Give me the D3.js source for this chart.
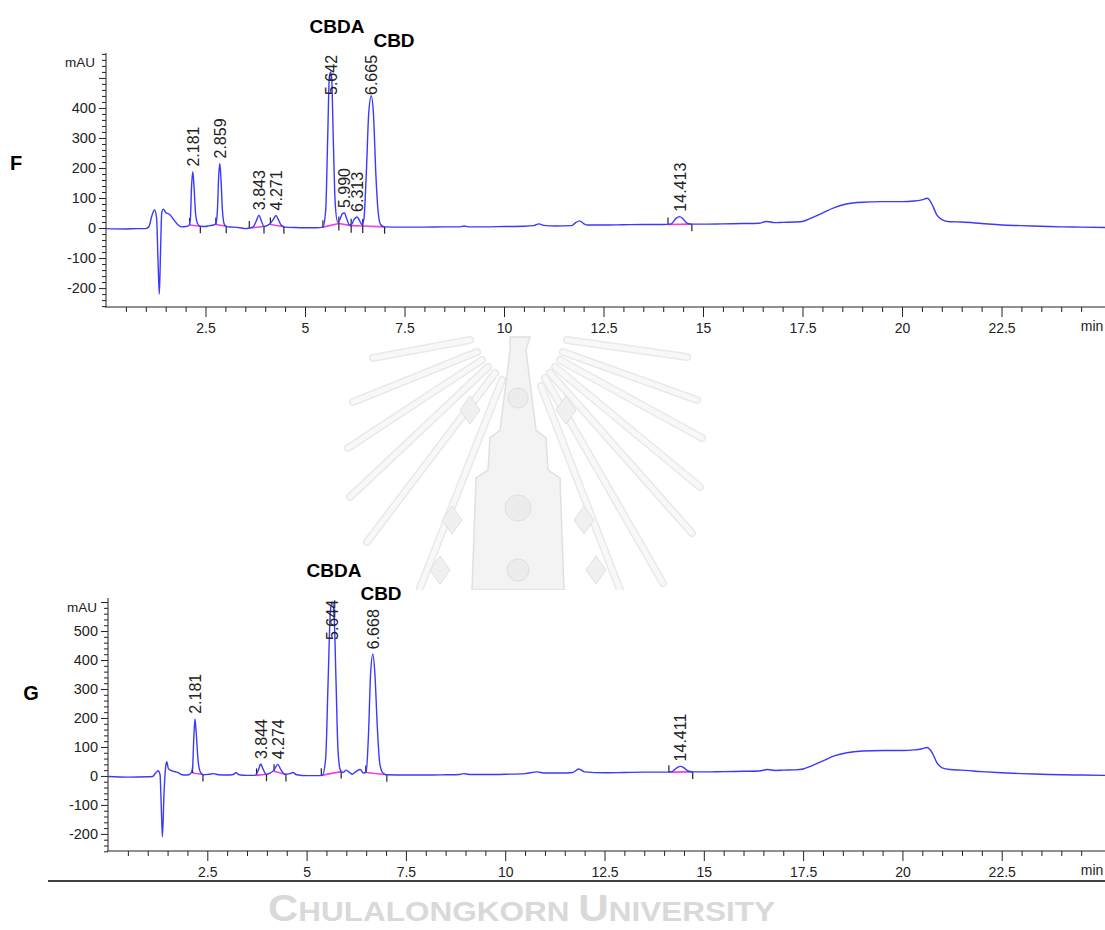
<!DOCTYPE html>
<html>
<head>
<meta charset="utf-8">
<script src="https://cdn.jsdelivr.net/npm/d3@7"></script>
<style>
  body { margin: 0; background: #fff; }
  svg { display: block; }
  text { font-family: "Liberation Sans", Arial, sans-serif; }
</style>
</head>
<body>
<svg id="svg_id" width="1105" height="930"></svg>
<script>
// chromatogram F: [min, mAU]
var traceF = [
  [0, -2], [0.5, -3], [0.8, -2], [1.0, -2], [1.08, 5], [1.15, 40], [1.22, 60], [1.27, 35],
  [1.31, -120], [1.34, -220], [1.37, -80], [1.40, 50], [1.44, 63], [1.5, 52], [1.6, 45],
  [1.7, 28], [1.8, 12], [1.9, 4], [2.0, 5], [2.08, 8], [2.12, 30], [2.15, 140], [2.181, 188],
  [2.21, 140], [2.25, 50], [2.3, 15], [2.37, 6], [2.5, 5], [2.6, 8], [2.7, 10], [2.76, 14],
  [2.80, 60], [2.83, 170], [2.859, 215], [2.89, 160], [2.93, 50], [2.98, 10], [3.05, 4],
  [3.2, 3], [3.4, 0], [3.5, -2], [3.6, 0], [3.7, 4], [3.78, 25], [3.843, 43], [3.9, 25],
  [3.97, 5], [4.05, 8], [4.12, 14], [4.2, 28], [4.271, 42], [4.33, 28], [4.4, 10], [4.5, 3],
  [4.7, 2], [5.0, 1], [5.3, 1], [5.45, 3], [5.52, 60], [5.57, 300], [5.61, 500], [5.642, 520],
  [5.67, 500], [5.71, 300], [5.76, 80], [5.82, 20], [5.88, 30], [5.94, 48], [5.99, 50],
  [6.05, 30], [6.12, 10], [6.17, 12], [6.24, 30], [6.313, 37], [6.37, 25], [6.43, 12],
  [6.48, 30], [6.54, 180], [6.6, 380], [6.665, 440], [6.72, 380], [6.78, 180], [6.84, 50],
  [6.9, 12], [7.0, 4], [7.5, 3], [8.0, 3], [8.5, 4], [8.9, 4], [9.0, 7], [9.1, 4], [9.5, 4],
  [10.0, 5], [10.5, 6], [10.75, 8], [10.88, 14], [11.0, 9], [11.3, 7], [11.7, 8], [11.8, 18],
  [11.9, 24], [12.0, 15], [12.1, 10], [12.5, 10], [13.0, 11], [13.5, 12], [14.0, 12],
  [14.2, 14], [14.32, 32], [14.413, 38], [14.5, 30], [14.6, 16], [14.72, 13], [15.0, 13],
  [15.5, 14], [16.0, 15], [16.4, 16], [16.6, 22], [16.8, 18], [17.0, 19], [17.3, 20],
  [17.5, 22], [17.7, 32], [18.0, 50], [18.3, 68], [18.6, 80], [19.0, 86], [19.5, 88],
  [20.0, 88], [20.3, 90], [20.5, 94], [20.64, 99], [20.75, 80], [20.87, 45], [21.0, 28],
  [21.2, 21], [21.5, 20], [22.0, 15], [22.5, 10], [23.0, 8], [23.5, 6], [24.0, 4],
  [24.5, 3], [25.1, 2]
];

// chromatogram G
var traceG = [
  [0, -2], [0.5, -4], [1.0, -3], [1.12, -2], [1.2, 10], [1.26, 18], [1.31, 5], [1.34, -100],
  [1.37, -210], [1.41, -60], [1.45, 30], [1.48, 49], [1.52, 25], [1.57, 20], [1.65, 16],
  [1.75, 12], [1.85, 5], [1.95, 3], [2.05, 5], [2.1, 12], [2.13, 30], [2.16, 130], [2.19, 197],
  [2.22, 150], [2.27, 50], [2.33, 12], [2.4, 4], [2.55, 6], [2.65, 8], [2.8, 4], [3.0, 3],
  [3.15, 5], [3.22, 11], [3.3, 4], [3.5, 2], [3.7, 2], [3.78, 18], [3.844, 41], [3.9, 25],
  [3.98, 6], [4.08, 10], [4.18, 20], [4.274, 40], [4.35, 22], [4.45, 6], [4.58, 8],
  [4.65, 12], [4.75, 4], [5.0, 1], [5.3, 1], [5.4, 3], [5.48, 60], [5.54, 320], [5.6, 570],
  [5.644, 600], [5.69, 560], [5.74, 330], [5.79, 90], [5.85, 20], [5.92, 12], [6.0, 20],
  [6.08, 12], [6.15, 6], [6.25, 16], [6.35, 22], [6.43, 10], [6.5, 14], [6.56, 150],
  [6.61, 350], [6.668, 420], [6.72, 350], [6.78, 170], [6.84, 45], [6.92, 10], [7.02, 4],
  [7.5, 3], [8.0, 3], [8.5, 4], [8.85, 5], [8.95, 8], [9.1, 5], [9.5, 5], [10.0, 6],
  [10.5, 8], [10.8, 14], [11.0, 10], [11.4, 10], [11.7, 12], [11.85, 24], [12.0, 14],
  [12.5, 11], [13.0, 12], [13.5, 13], [14.0, 13], [14.2, 15], [14.32, 28], [14.411, 33],
  [14.5, 28], [14.6, 17], [14.72, 14], [15.0, 14], [15.5, 15], [16.0, 16], [16.4, 17],
  [16.6, 22], [16.8, 19], [17.0, 20], [17.3, 21], [17.5, 24], [17.7, 34], [18.0, 52],
  [18.3, 70], [18.6, 80], [19.0, 86], [19.5, 88], [20.0, 88], [20.3, 90], [20.5, 94],
  [20.62, 98], [20.75, 80], [20.87, 45], [21.0, 28], [21.2, 22], [21.5, 20], [22.0, 15],
  [22.5, 11], [23.0, 8], [23.5, 6], [24.0, 4], [24.5, 3], [25.1, 2]
];

// labelled peaks: [retention time, apex mAU]
var peaksF = [[2.181, 188], [2.859, 215], [3.843, 43], [4.271, 42], [5.642, 520],
              [5.990, 50], [6.313, 37], [6.665, 440], [14.413, 38]];
var peaksG = [[2.181, 197], [3.844, 41], [4.274, 40], [5.644, 600], [6.668, 420], [14.411, 33]];

// integration baselines: [start min, start mAU, end min, end mAU]
var baseF = [[2.10, 10, 2.37, 6], [2.76, 12, 3.02, 6], [3.60, 0, 3.97, 5], [4.13, 12, 4.47, 4],
             [5.45, 3, 5.85, 15], [5.85, 15, 6.16, 8], [6.16, 8, 6.45, 7], [6.45, 7, 7.0, 4],
             [14.12, 12, 14.72, 13]];
var baseG = [[2.13, 10, 2.39, 5], [3.74, 2, 3.99, 6], [4.18, 16, 4.48, 5], [5.37, 2, 5.87, 15],
             [6.49, 12, 7.02, 4], [14.12, 13, 14.72, 14]];

var xTickLabels = [2.5, 5, 7.5, 10, 12.5, 15, 17.5, 20, 22.5];
var yTickLabelsF = [-200, -100, 0, 100, 200, 300, 400];
var yTickLabelsG = [-200, -100, 0, 100, 200, 300, 400, 500];

var svg = d3.select("svg");

// faint university emblem between the two panels
var wm = svg.append("g").attr("class", "watermark");
var rays = [
  [470, 340, 373, 358], [477, 352, 353, 402], [482, 360, 348, 448], [488, 367, 350, 497],
  [495, 373, 367, 542], [502, 380, 420, 588],
  [567, 340, 687, 357], [563, 352, 697, 400], [560, 360, 702, 438], [555, 367, 700, 487],
  [550, 373, 692, 533], [545, 378, 663, 583], [541, 386, 620, 590]
];
rays.forEach(function (r) {
  wm.append("line").attr("x1", r[0]).attr("y1", r[1]).attr("x2", r[2]).attr("y2", r[3])
    .attr("stroke", "#e9e9e9").attr("stroke-width", 8).attr("stroke-linecap", "round");
  wm.append("line").attr("x1", r[0]).attr("y1", r[1]).attr("x2", r[2]).attr("y2", r[3])
    .attr("stroke", "#f8f8f8").attr("stroke-width", 5).attr("stroke-linecap", "round");
});
wm.append("path")
  .attr("d", "M510,337 L530,337 L526,350 L536,430 L546,438 L548,470 L560,478 L564,590 " +
             "L472,590 L476,478 L488,470 L490,438 L500,430 L510,350 Z")
  .attr("fill", "#f3f3f3").attr("stroke", "#e0e0e0").attr("stroke-width", 1.5);
[[518, 398, 10], [518, 508, 13], [518, 570, 11]].forEach(function (c) {
  wm.append("circle").attr("cx", c[0]).attr("cy", c[1]).attr("r", c[2])
    .attr("fill", "#ececec").attr("stroke", "#dedede");
});
[[470, 410], [566, 410], [452, 520], [584, 520], [440, 570], [596, 570]].forEach(function (p) {
  wm.append("path")
    .attr("d", "M" + p[0] + "," + (p[1] - 14) + " l10,14 l-10,14 l-10,-14 Z")
    .attr("fill", "#f0f0f0").attr("stroke", "#e0e0e0");
});

function drawChart(cfg) {
  var x = d3.scaleLinear().domain([0, 25.1]).range([cfg.left, 1105]);
  var y = d3.scaleLinear().domain(cfg.yDomain).range([cfg.bottom, cfg.top]);
  var g = svg.append("g");

  // white panel hides the emblem behind the lower chart
  if (cfg.panel) {
    g.append("rect").attr("x", 0).attr("y", cfg.panel).attr("width", 1105)
      .attr("height", cfg.bottom + 40 - cfg.panel).attr("fill", "#fff");
  }

  // x axis: minor and major ticks
  var xMinor = d3.range(0.5, 25.01, 0.5).filter(function (d) { return d % 2.5 !== 0; });
  g.append("g").attr("transform", "translate(0," + cfg.bottom + ")")
    .call(d3.axisBottom(x).tickValues(xMinor).tickSize(5).tickFormat(""))
    .call(function (a) { a.select(".domain").remove(); });
  var xa = g.append("g").attr("transform", "translate(0," + cfg.bottom + ")")
    .call(d3.axisBottom(x).tickValues(xTickLabels).tickSize(10).tickPadding(6)
      .tickFormat(function (d) { return String(d); }));
  xa.select(".domain").attr("d", "M" + (cfg.left - 1) + ",0H1105");
  xa.selectAll("text").attr("font-size", 14).attr("fill", "#222");
  g.append("text").attr("x", 1092).attr("y", cfg.bottom + 24).attr("text-anchor", "middle")
    .attr("font-size", 14).attr("fill", "#222").text("min");

  // y axis
  var yMinor = d3.range(-260, cfg.yDomain[1], 20).filter(function (d) { return d % 100 !== 0; });
  var yMajor = d3.range(-200, cfg.yDomain[1], 100);
  g.append("g").attr("transform", "translate(" + cfg.left + ",0)")
    .call(d3.axisLeft(y).tickValues(yMinor).tickSize(4).tickFormat(""))
    .call(function (a) { a.select(".domain").remove(); });
  var ya = g.append("g").attr("transform", "translate(" + cfg.left + ",0)")
    .call(d3.axisLeft(y).tickValues(yMajor).tickSize(7).tickPadding(3)
      .tickFormat(function (d) { return cfg.yLabels.indexOf(d) >= 0 ? String(d) : ""; }));
  ya.select(".domain").attr("d", "M0," + cfg.top + "V" + cfg.bottom);
  ya.selectAll("text").attr("font-size", 14.5).attr("fill", "#222");
  g.append("text").attr("x", cfg.left - 11).attr("y", cfg.top + 14).attr("text-anchor", "end")
    .attr("font-size", 13.5).attr("fill", "#222").text("mAU");

  g.selectAll(".domain, .tick line").attr("stroke", "#222");

  // integration baselines and markers
  g.selectAll(".base").data(cfg.base).enter().append("line")
    .attr("x1", function (d) { return x(d[0]); }).attr("y1", function (d) { return y(d[1]); })
    .attr("x2", function (d) { return x(d[2]); }).attr("y2", function (d) { return y(d[3]); })
    .attr("stroke", "#f040e0").attr("stroke-width", 1.6);
  g.selectAll(".mstart").data(cfg.base).enter().append("line")
    .attr("x1", function (d) { return x(d[0]); }).attr("x2", function (d) { return x(d[0]); })
    .attr("y1", function (d) { return y(d[1]) - 7; }).attr("y2", function (d) { return y(d[1]); })
    .attr("stroke", "#222").attr("stroke-width", 1.2);
  g.selectAll(".mend").data(cfg.base).enter().append("line")
    .attr("x1", function (d) { return x(d[2]); }).attr("x2", function (d) { return x(d[2]); })
    .attr("y1", function (d) { return y(d[3]); }).attr("y2", function (d) { return y(d[3]) + 7; })
    .attr("stroke", "#222").attr("stroke-width", 1.2);

  // signal trace
  var line = d3.line()
    .x(function (d) { return x(d[0]); })
    .y(function (d) { return y(d[1]); })
    .curve(d3.curveMonotoneX);
  g.append("path").datum(cfg.trace).attr("d", line)
    .attr("fill", "none").attr("stroke", "#3a3aff").attr("stroke-width", 1.4)
    .attr("stroke-linejoin", "round");

  // retention time labels, rotated, clamped inside the plot top
  g.selectAll(".rt").data(cfg.peaks).enter().append("text")
    .attr("transform", function (d) {
      var yb = Math.max(y(d[1]) - 5, cfg.top + 42);
      return "translate(" + (x(d[0]) + 6) + "," + yb + ") rotate(-90)";
    })
    .attr("font-size", 16).attr("fill", "#222")
    .text(function (d) { return d[0].toFixed(3); });

  // compound names and panel letter
  cfg.names.forEach(function (n) {
    g.append("text").attr("x", n[1]).attr("y", n[2]).attr("text-anchor", "middle")
      .attr("font-family", "'Open Sans', sans-serif").attr("font-weight", "bold")
      .attr("font-size", 19).attr("fill", "#000").text(n[0]);
  });
  g.append("text").attr("x", cfg.letter[1]).attr("y", cfg.letter[2])
    .attr("text-anchor", "middle").attr("font-family", "'Open Sans', sans-serif")
    .attr("font-weight", "bold").attr("font-size", 20).attr("fill", "#000").text(cfg.letter[0]);
}

drawChart({
  left: 106, top: 53, bottom: 307, yDomain: [-263, 583], yLabels: yTickLabelsF,
  trace: traceF, peaks: peaksF, base: baseF,
  names: [["CBDA", 337, 33], ["CBD", 394, 47]], letter: ["F", 16, 170]
});
drawChart({
  left: 108, top: 598, bottom: 851, yDomain: [-259, 614], yLabels: yTickLabelsG,
  trace: traceG, peaks: peaksG, base: baseG, panel: 590,
  names: [["CBDA", 334, 577], ["CBD", 381, 600]], letter: ["G", 31, 700]
});

// rule under the figure and the university caption
svg.append("line").attr("x1", 48).attr("x2", 1105).attr("y1", 881).attr("y2", 881)
  .attr("stroke", "#000").attr("stroke-width", 1.6);
var cap = svg.append("text").attr("x", 268).attr("y", 921)
  .attr("font-family", "'DejaVu Sans', sans-serif").attr("font-weight", "bold")
  .attr("fill", "#d9d9d9").attr("textLength", 507).attr("lengthAdjust", "spacingAndGlyphs");
[["C", 36], ["HULALONGKORN ", 27], ["U", 36], ["NIVERSITY", 27]].forEach(function (p) {
  cap.append("tspan").attr("font-size", p[1]).text(p[0]);
});
</script>
</body>
</html>
